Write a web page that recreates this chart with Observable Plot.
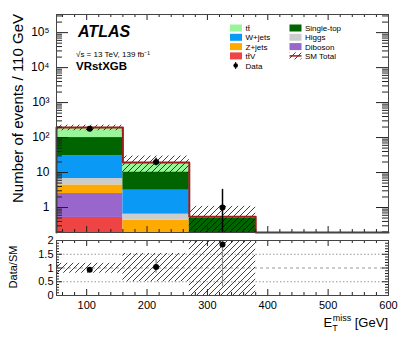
<!DOCTYPE html>
<html><head><meta charset="utf-8">
<script src="https://cdn.jsdelivr.net/npm/d3@7"></script>
<script src="https://cdn.jsdelivr.net/npm/@observablehq/plot@0.6"></script>
<style>
body{margin:0;background:#fff;font-family:"Liberation Sans",Arial,Helvetica,sans-serif;}
#wrap{position:relative;width:407px;height:338px;overflow:hidden;background:#fff;}
#wrap > svg{position:absolute;left:0;}
</style></head><body>
<svg width="0" height="0" style="position:absolute"><defs>
<pattern id="hatch" patternUnits="userSpaceOnUse" width="6" height="6">
<path d="M-1,1 L1,-1 M0,6 L6,0 M5,7 L7,5" stroke="#000" stroke-width="0.75"/>
</pattern></defs></svg>
<div id="wrap"></div>
<script>
// ---- data ----
const binEdges = [50, 160, 270, 380, 490, 600];
const ttV       = [0.52, 0, 0, 0, 0];
const diboson   = [1.99, 0, 0, 0, 0];
const zjets     = [1.91, 0.434, 0, 0, 0];
const higgs     = [2.32, 0.21, 0, 0, 0];
const wjets     = [23.1, 2.48, 0, 0, 0];
const singleTop = [70.2, 7.28, 0.49, 0, 0];
const ttbar     = [93, 8.9, 0.05, 0, 0];
const layerNames = ["tt̄V", "Diboson", "Z+jets", "Higgs", "W+jets", "Single-top", "tt̄"];
const layerColors = ["#ee4444", "#9966cc", "#ffaa00", "#cccccc", "#0a9af5", "#006400", "#99f599"];
const dataX = [105, 215, 325];
const dataY = [180, 20, 1];
const dataErrLo = [13.4, 4.4, 0.83];
const dataErrHi = [14.4, 5.5, 2.3];
const bandLo = [0.81, 0.50, 0];
const bandHi = [1.17, 1.53, 2.0];
const yTicksMain = [1, 10, 100, 1e3, 1e4, 1e5];
const yTickLabelsMain = ["1", "10", "10²", "10³", "10⁴", "10⁵"];
const ratioTicks = [0, 0.5, 1, 1.5, 2];
const ratioTickLabels = ["0", "0.5", "1", "1.5", "2"];
const xTicks = [100, 200, 300, 400, 500, 600];
const xTickLabels = ["100", "200", "300", "400", "500", "600"];

const yMin = 0.193, yMax = 3.3e5;
const layers = [ttV, diboson, zjets, higgs, wjets, singleTop, ttbar];
const nb = binEdges.length - 1;

// stacked rects
const stackRows = [];
const totals = [];
for (let i = 0; i < nb; i++) {
  let cum = 0;
  layers.forEach((arr, k) => {
    const v = arr[i];
    if (v > 0) {
      stackRows.push({x1: binEdges[i], x2: binEdges[i+1], y1: cum > 0 ? cum : yMin, y2: cum + v, c: layerColors[k]});
      cum += v;
    }
  });
  totals.push(cum);
}
const totalLine = binEdges.map((e, i) => ({x: e, y: Math.max(totals[Math.min(i, nb-1)], yMin)}));
totalLine.unshift({x: binEdges[0], y: yMin});
const bandRows = bandLo.map((lo, i) => ({x1: binEdges[i], x2: binEdges[i+1], lo, hi: bandHi[i], t: totals[i]}));
const dataRows = dataX.map((x, i) => ({x, y: dataY[i], lo: dataY[i]-dataErrLo[i], hi: dataY[i]+dataErrHi[i], t: totals[i]}));

// minor ticks
const xMinor = d3.range(60, 601, 20).filter(v => v % 100 !== 0);
const yMinorMain = [];
for (let p = -1; p <= 5; p++) for (let m = 2; m <= 9; m++) { const v = m * Math.pow(10, p); if (v > yMin && v < yMax) yMinorMain.push(v); }
const ratioMinor = d3.range(0, 2.001, 0.1).map(v => +v.toFixed(2)).filter(v => !ratioTicks.includes(v));

const W = 407, mL = 56, mR = 19;
const fw = W - mL - mR;
const TC = "#222";

// ---- main panel ----
const mainH = 236, mT = 14, mB = 4, fh = mainH - mT - mB;
const main = Plot.plot({
  width: W, height: mainH, marginLeft: mL, marginRight: mR, marginTop: mT, marginBottom: mB,
  style: {background: "transparent", color: "#000", fontFamily: "'Liberation Sans',Arial,sans-serif"},
  x: {domain: [50, 600], axis: null},
  y: {type: "log", domain: [yMin, yMax], clamp: true},
  marks: [
    Plot.rect(stackRows, {x1: "x1", x2: "x2", y1: "y1", y2: "y2", fill: "c"}),
    Plot.rect(bandRows, {x1: "x1", x2: "x2", y1: d => Math.max(d.t * d.lo, yMin), y2: d => d.t * d.hi, fill: "url(#hatch)"}),
    Plot.line(totalLine, {x: "x", y: "y", curve: "step-after", stroke: "#9e1c1c", strokeWidth: 2}),
    Plot.ruleX(dataRows, {x: "x", y1: d => Math.max(d.lo, yMin), y2: "hi", stroke: "#000", strokeWidth: 1.5}),
    Plot.dot(dataRows, {x: "x", y: "y", r: 3, fill: "#000"}),
    // ticks
    Plot.tickX(xTicks, {x: d => d, insetTop: fh - 6, stroke: TC}),
    Plot.tickX(xMinor, {x: d => d, insetTop: fh - 3, stroke: TC}),
    Plot.tickX(xTicks, {x: d => d, insetBottom: fh - 6, stroke: TC}),
    Plot.tickX(xMinor, {x: d => d, insetBottom: fh - 3, stroke: TC}),
    Plot.tickY(yTicksMain, {y: d => d, insetRight: fw - 12, stroke: TC}),
    Plot.tickY(yMinorMain, {y: d => d, insetRight: fw - 6, stroke: TC}),
    Plot.tickY(yTicksMain, {y: d => d, insetLeft: fw - 12, stroke: TC}),
    Plot.tickY(yMinorMain, {y: d => d, insetLeft: fw - 6, stroke: TC}),
    Plot.axisY({ticks: yTicksMain, tickFormat: d => yTickLabelsMain[yTicksMain.indexOf(d)], tickSize: 0, tickPadding: 7, fontSize: 12, label: null}),
    Plot.frame({stroke: "#444"})
  ]
});
main.style.top = "0px";
document.getElementById("wrap").appendChild(main);

// ---- ratio panel ----
const rTop = 228, rH = 110, rmT = 12, rmB = 43, rfh = rH - rmT - rmB;
const ratio = Plot.plot({
  width: W, height: rH, marginLeft: mL, marginRight: mR, marginTop: rmT, marginBottom: rmB,
  style: {background: "transparent", color: "#000", fontFamily: "'Liberation Sans',Arial,sans-serif"},
  x: {domain: [50, 600]},
  y: {domain: [0, 2], clamp: true},
  marks: [
    Plot.ruleY([0.5, 1.5], {stroke: "#999", strokeDasharray: "1.5,2"}),
    Plot.ruleY([1], {stroke: "#999", strokeDasharray: "3,3"}),
    Plot.rect(bandRows, {x1: "x1", x2: "x2", y1: "lo", y2: d => Math.min(d.hi, 2), fill: "url(#hatch)"}),
    Plot.ruleX(dataRows, {x: "x", y1: d => Math.max(d.lo / d.t, 0), y2: d => Math.min(d.hi / d.t, 2), stroke: "#888", strokeWidth: 1.2}),
    Plot.dot(dataRows, {x: "x", y: d => d.y / d.t, r: 3, fill: "#000"}),
    Plot.tickX(xTicks, {x: d => d, insetTop: rfh - 6, stroke: TC}),
    Plot.tickX(xMinor, {x: d => d, insetTop: rfh - 3, stroke: TC}),
    Plot.tickX(xTicks, {x: d => d, insetBottom: rfh - 6, stroke: TC}),
    Plot.tickX(xMinor, {x: d => d, insetBottom: rfh - 3, stroke: TC}),
    Plot.tickY(ratioTicks, {y: d => d, insetRight: fw - 6, stroke: TC}),
    Plot.tickY(ratioMinor, {y: d => d, insetRight: fw - 3, stroke: TC}),
    Plot.tickY(ratioTicks, {y: d => d, insetLeft: fw - 6, stroke: TC}),
    Plot.tickY(ratioMinor, {y: d => d, insetLeft: fw - 3, stroke: TC}),
    Plot.axisX({ticks: xTicks, tickFormat: d => xTickLabels[xTicks.indexOf(d)], tickSize: 0, tickPadding: 6, fontSize: 11, label: null}),
    Plot.axisY({ticks: ratioTicks, tickFormat: d => ratioTickLabels[ratioTicks.indexOf(d)], tickSize: 0, tickPadding: 3, fontSize: 11, label: null}),
    Plot.frame({stroke: "#444"})
  ]
});
ratio.style.top = rTop + "px";
document.getElementById("wrap").appendChild(ratio);

// ---- overlay text: titles, labels, legend ----
const ov = d3.select("#wrap").append("svg").attr("width", W).attr("height", 338).style("top", "0px").style("pointer-events", "none")
  .style("font-family", "'Liberation Sans',Arial,sans-serif");

ov.append("text").attr("transform", "translate(23,14) rotate(-90)").attr("text-anchor", "end")
  .attr("font-size", 15).text("Number of events / 110 GeV");
ov.append("text").attr("transform", "translate(17,267) rotate(-90)").attr("text-anchor", "middle")
  .attr("font-size", 11).text("Data/SM");
const xt = ov.append("text").attr("x", 388).attr("y", 327).attr("text-anchor", "end").attr("font-size", 13);
xt.append("tspan").text("E");
xt.append("tspan").attr("font-size", 9).attr("dy", 4).text("T");
xt.append("tspan").attr("font-size", 9).attr("dx", -5).attr("dy", -10).text("miss");
xt.append("tspan").attr("dy", 6).text(" [GeV]");

ov.append("text").attr("x", 78).attr("y", 37).attr("font-size", 16).attr("font-weight", "bold").attr("font-style", "italic").text("ATLAS");
ov.append("text").attr("x", 76).attr("y", 56.5).attr("font-size", 8).text("√s = 13 TeV, 139 fb⁻¹");
ov.append("text").attr("x", 76).attr("y", 70).attr("font-size", 11.5).attr("font-weight", "bold").text("VRstXGB");

// legend
const legItems = [
  {name: "tt̄", c: layerColors[6], col: 0, row: 0},
  {name: "W+jets", c: layerColors[4], col: 0, row: 1},
  {name: "Z+jets", c: layerColors[2], col: 0, row: 2},
  {name: "tt̄V", c: layerColors[0], col: 0, row: 3},
  {name: "Single-top", c: layerColors[5], col: 1, row: 0},
  {name: "Higgs", c: layerColors[3], col: 1, row: 1},
  {name: "Diboson", c: layerColors[1], col: 1, row: 2}
];
const rowY = [28, 37.3, 46.6, 55.9, 65.5];
const colX = [230, 289.5];
legItems.forEach(d => {
  ov.append("rect").attr("x", colX[d.col]).attr("y", rowY[d.row] - 3.5).attr("width", 12).attr("height", 7).attr("fill", d.c);
  ov.append("text").attr("x", colX[d.col] + 15.5).attr("y", rowY[d.row] + 3).attr("font-size", 8).text(d.name);
});
// SM Total legend
ov.append("rect").attr("x", colX[1]).attr("y", rowY[3] - 3.5).attr("width", 12).attr("height", 7).attr("fill", "url(#hatch)");
ov.append("line").attr("x1", colX[1]).attr("x2", colX[1] + 12).attr("y1", rowY[3]).attr("y2", rowY[3]).attr("stroke", "#9e1c1c").attr("stroke-width", 1.5);
ov.append("text").attr("x", colX[1] + 15.5).attr("y", rowY[3] + 3).attr("font-size", 8).text("SM Total");
// Data legend
ov.append("circle").attr("cx", 235.7).attr("cy", rowY[4]).attr("r", 2.3).attr("fill", "#000");
ov.append("line").attr("x1", 235.7).attr("x2", 235.7).attr("y1", rowY[4] - 3.5).attr("y2", rowY[4] + 3.5).attr("stroke", "#000");
ov.append("text").attr("x", colX[0] + 15.5).attr("y", rowY[4] + 3).attr("font-size", 8).text("Data");
</script>
</body></html>
